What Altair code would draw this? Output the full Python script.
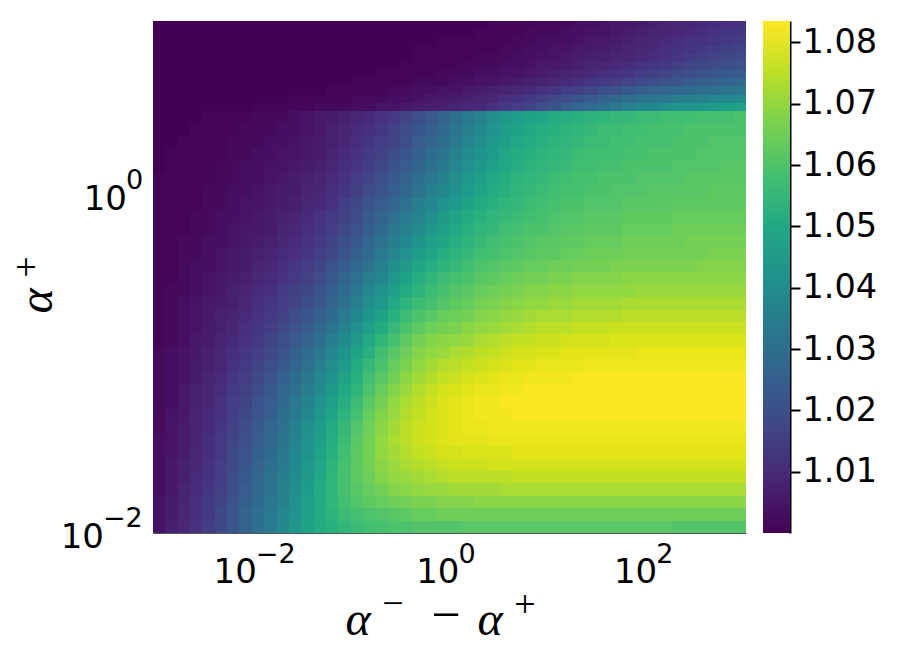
import altair as alt
import numpy as np
import pandas as pd

# cell values: thousandths above 1, rows top to bottom
top_rows = [
 [0,0,0,0,0,0,0,0,0,0,0,0, 0,0,0,0,0,0,0,0,0,0,0,0, 0,0,0,1,1,1,1,2,2,2,3,3, 4,5,5,6,7,8,9,9,10,11,11,12],
 [0,0,0,0,0,0,0,0,0,0,0,0, 0,0,0,0,0,0,0,0,0,0,0,0, 0,0,1,1,1,1,2,2,2,3,3,4, 4,5,6,7,8,8,9,10,11,12,13,13],
 [0,0,0,0,0,0,0,0,0,0,0,0, 0,0,0,0,0,0,0,0,0,0,0,1, 1,1,1,1,1,2,2,3,3,3,4,5, 5,6,7,8,9,10,11,12,12,13,14,15],
 [0,0,0,0,0,0,0,0,0,0,0,0, 0,0,0,0,0,0,0,0,0,1,1,1, 1,1,1,1,2,2,3,3,4,4,5,6, 6,7,8,9,10,11,12,13,14,15,16,17],
 [0,0,0,0,0,0,0,0,0,0,0,0, 0,0,0,0,0,0,0,0,0,1,1,1, 1,1,2,2,2,3,3,4,4,5,6,7, 7,8,9,10,11,12,13,15,16,17,18,19],
 [0,0,0,0,0,0,0,0,0,0,0,0, 0,0,0,0,0,0,0,0,1,1,1,1, 1,2,2,2,3,3,4,5,5,6,7,8, 9,10,11,12,13,14,16,17,18,19,20,21],
 [0,0,0,0,0,0,0,0,0,0,0,0, 0,0,0,0,0,0,1,1,1,1,1,2, 2,2,3,3,4,4,5,6,7,8,9,10, 11,12,13,15,16,17,19,20,21,22,23,24],
 [0,0,0,0,0,0,0,0,0,0,0,0, 0,0,0,0,1,1,1,1,1,2,2,2, 3,3,4,4,5,6,7,8,9,10,11,13, 14,15,17,18,20,21,22,24,25,26,27,28],
 [0,0,0,0,0,0,0,0,0,0,0,0, 0,0,1,1,1,1,1,2,2,3,3,4, 4,5,6,7,8,9,10,12,13,15,16,18, 20,21,23,25,26,27,28,29,30,31,32,33],
 [0,0,0,0,0,0,0,0,0,0,0,1, 1,1,1,1,2,2,2,3,3,4,5,5, 6,7,8,9,11,12,14,16,18,20,22,24, 26,28,30,32,33,34,35,36,37,38,39,40],
 [0,0,0,0,0,0,0,0,1,1,1,1, 1,2,2,2,3,3,4,4,5,6,7,7, 8,9,10,12,14,15,17,20,22,25,27,29, 31,33,36,38,39,41,42,43,44,46,47,48],
]
lower_rows = [
 [0,0,0,0,1,1,1,1,2,2,2,3, 4,5,6,7,9,10,12,14,17,20,23,26, 30,34,37,41,44,46,48,49,51,52,53,54, 55,56,56,57,57,58,58,58,59,59,59,60],
 [0,0,0,1,1,1,1,2,2,2,3,3, 4,5,7,8,10,11,13,16,19,22,25,28, 32,36,39,43,46,48,50,52,53,54,55,56, 57,57,58,58,59,59,59,60,60,60,60,60],
 [0,0,1,1,1,1,2,2,2,3,3,4, 5,6,7,9,11,13,15,17,20,24,27,30, 34,38,41,45,47,50,51,53,54,55,56,57, 57,58,58,59,59,59,60,60,60,61,61,61],
 [0,1,1,1,1,1,2,2,3,3,4,4, 5,6,8,10,12,14,16,19,22,25,29,32, 36,40,43,46,49,51,53,54,55,56,57,58, 58,58,59,59,60,60,60,60,61,61,61,61],
 [0,1,1,1,1,2,2,3,3,4,4,5, 6,7,9,11,13,15,18,21,24,27,31,34, 38,42,45,48,50,52,54,55,56,57,58,58, 59,59,60,60,60,60,61,61,61,61,62,62],
 [1,1,1,1,1,2,2,3,3,4,5,6, 7,8,10,12,15,17,20,23,26,30,33,37, 41,44,47,50,52,54,55,56,57,58,59,59, 60,60,60,61,61,61,61,62,62,62,62,62],
 [1,1,1,1,2,2,3,3,4,5,6,6, 8,9,11,13,16,19,22,25,28,32,36,39, 43,46,49,51,53,55,56,57,58,59,59,60, 60,61,61,61,62,62,62,62,62,63,63,63],
 [1,1,1,1,2,2,3,4,4,5,6,7, 9,10,12,15,18,21,24,27,31,35,38,42, 45,48,51,53,55,56,57,58,59,60,60,61, 61,61,62,62,62,62,63,63,63,63,63,63],
 [1,1,1,2,2,3,3,4,5,6,7,8, 10,12,14,16,19,23,26,30,34,37,41,45, 48,51,53,55,56,57,58,59,60,61,61,62, 62,62,63,63,63,63,64,64,64,64,64,64],
 [1,1,1,2,2,3,4,5,5,6,8,9, 11,13,15,18,21,25,29,33,37,40,44,47, 50,53,55,56,58,59,60,60,61,62,62,63, 63,63,64,64,64,64,65,65,65,65,65,65],
 [1,1,2,2,3,3,4,5,6,7,9,10, 12,14,17,20,23,27,31,35,39,43,47,49, 52,54,56,58,59,60,61,62,62,63,63,64, 64,64,65,65,65,65,65,66,66,66,66,66],
 [1,1,2,2,3,4,5,6,7,8,10,11, 13,15,18,22,25,29,34,38,42,46,49,52, 54,56,58,59,60,61,62,63,63,64,64,65, 65,65,66,66,66,66,66,66,66,67,67,67],
 [1,1,2,3,3,4,5,6,8,9,11,13, 15,17,21,24,28,32,36,41,45,49,52,54, 56,58,60,61,62,63,64,64,65,65,66,66, 66,67,67,67,67,67,67,67,68,68,68,68],
 [1,1,2,3,4,5,6,7,9,10,12,14, 16,19,23,27,31,35,39,44,48,52,55,57, 59,60,62,63,64,65,66,66,67,67,68,68, 68,68,69,69,69,69,69,69,69,69,69,69],
 [1,2,2,3,4,5,7,8,10,11,14,16, 18,21,25,29,33,38,42,47,51,54,57,59, 61,62,64,65,66,67,68,68,69,69,70,70, 70,70,70,71,71,71,71,71,71,71,71,71],
 [1,2,3,4,5,6,7,9,11,13,15,17, 20,23,27,31,36,41,45,50,54,57,59,61, 63,64,66,67,68,69,70,70,71,71,72,72, 72,72,73,73,73,73,73,73,73,73,73,73],
 [1,2,3,4,5,7,8,10,12,14,16,19, 22,25,29,34,39,44,48,53,57,60,62,64, 65,66,68,69,70,71,72,73,73,73,74,74, 74,74,75,75,75,75,75,75,75,75,75,75],
 [1,2,3,4,6,7,9,11,13,15,18,21, 24,28,32,37,42,47,51,56,60,63,65,66, 67,69,70,71,72,73,74,75,75,75,76,76, 76,77,77,77,77,77,77,77,77,77,77,77],
 [1,2,3,5,6,8,10,12,14,17,20,23, 26,30,35,40,45,50,55,59,63,66,68,69, 70,71,73,74,75,76,76,77,77,78,78,78, 78,79,79,79,79,79,79,79,79,79,79,79],
 [2,3,4,5,7,9,11,13,15,18,21,25, 29,33,38,43,48,53,58,62,65,68,70,71, 73,74,75,76,77,78,78,79,79,80,80,80, 80,80,80,81,81,81,81,81,81,81,81,81],
 [2,3,4,6,7,9,12,14,17,20,23,27, 31,36,41,46,51,56,60,64,67,70,72,74, 75,76,77,78,79,80,80,81,81,81,81,82, 82,82,82,82,82,82,82,82,82,82,82,82],
 [2,3,4,6,8,10,13,15,18,21,25,29, 33,38,43,48,53,58,62,66,69,72,74,76, 77,78,79,80,81,81,82,82,82,82,83,83, 83,83,83,83,83,83,83,83,83,83,83,83],
 [2,3,5,7,9,11,14,16,19,23,27,31, 35,40,45,50,55,60,64,68,71,74,76,78, 79,80,81,81,82,82,83,83,83,83,83,83, 83,83,83,83,83,83,83,83,83,83,83,83],
 [2,3,5,7,9,12,15,17,21,24,28,33, 37,42,47,52,57,62,66,70,73,75,77,79, 80,81,82,82,83,83,83,83,83,83,83,83, 83,83,83,83,83,83,83,83,83,83,83,83],
 [2,4,5,8,10,12,15,18,22,25,30,34, 39,44,49,54,59,64,68,71,74,76,78,79, 80,81,82,82,82,83,83,83,83,83,83,83, 83,83,83,83,83,83,83,83,83,83,83,83],
 [2,4,6,8,10,13,16,19,23,27,31,36, 41,46,51,56,61,65,69,72,75,77,78,79, 80,81,81,82,82,82,82,82,82,82,82,82, 82,82,82,82,82,82,82,82,82,82,82,82],
 [3,4,6,8,11,14,17,20,24,28,32,37, 42,47,52,57,62,66,70,73,75,77,78,79, 80,80,80,81,81,81,81,81,81,81,81,81, 81,81,81,81,81,81,81,81,81,81,81,81],
 [3,4,6,9,11,14,18,21,25,29,33,38, 43,48,53,58,63,66,70,72,74,76,77,78, 78,79,79,79,79,80,80,80,80,80,80,80, 80,80,80,80,80,80,80,80,80,80,80,80],
 [3,5,7,9,12,15,18,22,26,30,34,39, 44,49,54,59,63,66,69,71,73,74,75,76, 77,77,77,78,78,78,78,78,78,78,78,78, 78,78,78,78,78,78,78,78,78,78,78,78],
 [3,5,7,10,12,15,19,23,27,31,35,40, 45,50,55,59,63,65,68,70,71,72,73,74, 75,75,75,75,75,76,76,76,76,76,76,76, 76,76,76,76,76,76,76,76,76,76,76,76],
 [3,5,8,10,13,16,20,24,28,32,36,41, 46,51,55,59,62,64,66,68,69,70,71,71, 72,72,72,72,73,73,73,73,73,73,73,73, 73,73,73,73,73,73,73,73,73,73,73,73],
 [4,6,8,11,14,17,21,25,29,33,37,42, 47,51,55,58,61,63,64,65,66,67,67,68, 68,68,69,69,69,69,69,69,69,69,69,69, 69,69,69,69,69,69,69,69,69,69,69,69],
 [4,6,9,11,14,18,22,26,30,34,38,43, 47,51,54,57,59,60,61,62,63,64,64,65, 65,65,65,65,65,65,65,65,65,65,65,65, 65,65,65,65,65,65,65,65,65,65,65,65],
 [4,7,9,12,15,18,22,26,30,34,39,44, 48,51,53,55,57,58,59,60,60,61,61,61, 61,62,62,62,62,62,62,62,62,62,62,62, 62,62,62,62,62,62,61,61,61,61,61,61],
]
x_ticks = [(-2, "\u22122", 5), (0, "0", 10), (2, "2", 10)]
y_ticks = [(0, "0", -26, 18.6, -2.4), (-2, "\u22122", -49, 15, -6)]
bar_ticks = [1.01, 1.02, 1.03, 1.04, 1.05, 1.06, 1.07, 1.08]
viridis = ["#440154", "#482475", "#414487", "#355f8d", "#2a788e", "#21918c",
           "#22a884", "#44bf70", "#7ad151", "#bddf26", "#fde725"]

W, H = 593, 512
KINK_PX = 90
x_dom, y_dom, c_dom = [1e-3, 1e3], [1e-2, 1e1], [1.0, 1.0835]
x_scale = alt.Scale(type="log", domain=x_dom, nice=False)
y_scale = alt.Scale(type="log", domain=y_dom, nice=False)
c_scale = alt.Scale(scheme="viridis", domain=c_dom)

# cell edges on whole pixels of the log axes, so neighbouring cells leave no seams
n_cols, n_top, n_low = len(top_rows[0]), len(top_rows), len(lower_rows)
x_px = np.round(np.arange(n_cols + 1) * W / n_cols)
y_px = np.concatenate([np.round(np.arange(n_top) * KINK_PX / n_top),
                       KINK_PX + np.round(np.arange(n_low + 1) * (H - KINK_PX) / n_low)])
x_edges = 10 ** (-3 + 6 * x_px / W)
y_edges = 10 ** (1 - 3 * y_px / H)

records = []
for r, row in enumerate(top_rows + lower_rows):
    assert len(row) == n_cols, r
    for c, n in enumerate(row):
        records.append({"x0": x_edges[c], "x1": x_edges[c + 1],
                        "y0": y_edges[r + 1], "y1": y_edges[r], "v": 1 + n / 1000})
cells = pd.DataFrame(records)

heat = alt.Chart(cells).mark_rect(clip=True).encode(
    x=alt.X("x0:Q", scale=x_scale, axis=alt.Axis(title=None, labels=False, ticks=False, grid=False,
                                                  domainColor="#555555", domainWidth=1)),
    x2="x1:Q",
    y=alt.Y("y0:Q", scale=y_scale, axis=alt.Axis(title=None, labels=False, ticks=False, grid=False,
                                                  domainColor="#555555", domainWidth=1)),
    y2="y1:Q",
    fill=alt.Fill("v:Q", scale=c_scale, legend=None),
)

SANS = "DejaVu Sans"
SERIF = "Liberation Serif"
layers = [heat]
for exp, sup, off in x_ticks:
    d = pd.DataFrame({"x": [10.0 ** exp]})
    layers.append(alt.Chart(d).mark_text(text="10", font=SANS, fontSize=34, align="right", baseline="alphabetic",
                                         dx=off, color="black").encode(
        x=alt.X("x:Q", scale=x_scale), y=alt.value(562)))
    layers.append(alt.Chart(d).mark_text(text=sup, font=SANS, fontSize=27, align="left", baseline="alphabetic",
                                         dx=off - 1, color="black").encode(
        x=alt.X("x:Q", scale=x_scale), y=alt.value(542)))
for exp, sup, xoff, d1, d2 in y_ticks:
    d = pd.DataFrame({"y": [10.0 ** exp]})
    layers.append(alt.Chart(d).mark_text(text="10", font=SANS, fontSize=34, align="right", baseline="alphabetic",
                                         dy=d1, color="black").encode(
        x=alt.value(xoff), y=alt.Y("y:Q", scale=y_scale)))
    layers.append(alt.Chart(d).mark_text(text=sup, font=SANS, fontSize=27, align="left", baseline="alphabetic",
                                         dy=d2, color="black").encode(
        x=alt.value(xoff - 1), y=alt.Y("y:Q", scale=y_scale)))

# axis titles: alpha^- - alpha^+
x_title = [("\u03b1", 205, 614, 48, "italic"), ("\u2212", 240, 595, 38, "normal"),
           ("\u2212", 293, 611, 52, "normal"), ("\u03b1", 337, 614, 48, "italic"),
           ("+", 372, 596, 38, "normal")]
for t, px, py, size, style in x_title:
    layers.append(alt.Chart(pd.DataFrame({"t": [t]})).mark_text(
        font=SERIF, fontSize=size, fontStyle=style, align="center", baseline="alphabetic", color="black").encode(
        text="t:N", x=alt.value(px), y=alt.value(py)))
y_title = [("\u03b1", -101, 280, 48, "italic"), ("+", -114, 246, 38, "normal")]
for t, px, py, size, style in y_title:
    layers.append(alt.Chart(pd.DataFrame({"t": [t]})).mark_text(
        font=SERIF, fontSize=size, fontStyle=style, align="center", baseline="alphabetic", angle=270, color="black").encode(
        text="t:N", x=alt.value(px), y=alt.value(py)))

left = alt.layer(*layers).resolve_scale(x="shared", y="shared").properties(width=W, height=H)

grad = alt.Gradient(gradient="linear", x1=0, x2=0, y1=1, y2=0,
                    stops=[alt.GradientStop(offset=i / (len(viridis) - 1), color=c) for i, c in enumerate(viridis)])
bar = alt.Chart(pd.DataFrame({"lo": [c_dom[0]], "hi": [c_dom[1]]})).mark_rect(fill=grad).encode(
    y=alt.Y("lo:Q", scale=alt.Scale(domain=c_dom, nice=False, zero=False),
            axis=alt.Axis(orient="right", title=None, values=bar_ticks, format=".2f", grid=False,
                          labelFont=SANS, labelFontSize=33.5, labelColor="black", labelPadding=2,
                          tickSize=10, tickWidth=2, tickColor="black",
                          domainColor="black", domainWidth=2, labelOverlap=False)),
    y2="hi:Q",
).properties(width=27, height=H)

chart = alt.hconcat(left, bar, spacing=17).configure_view(stroke=None).properties(
    padding={"left": 1, "top": 13, "right": 0, "bottom": 0}, background="white")
chart.save("out.html", embed_options={"renderer": "svg", "actions": False})
